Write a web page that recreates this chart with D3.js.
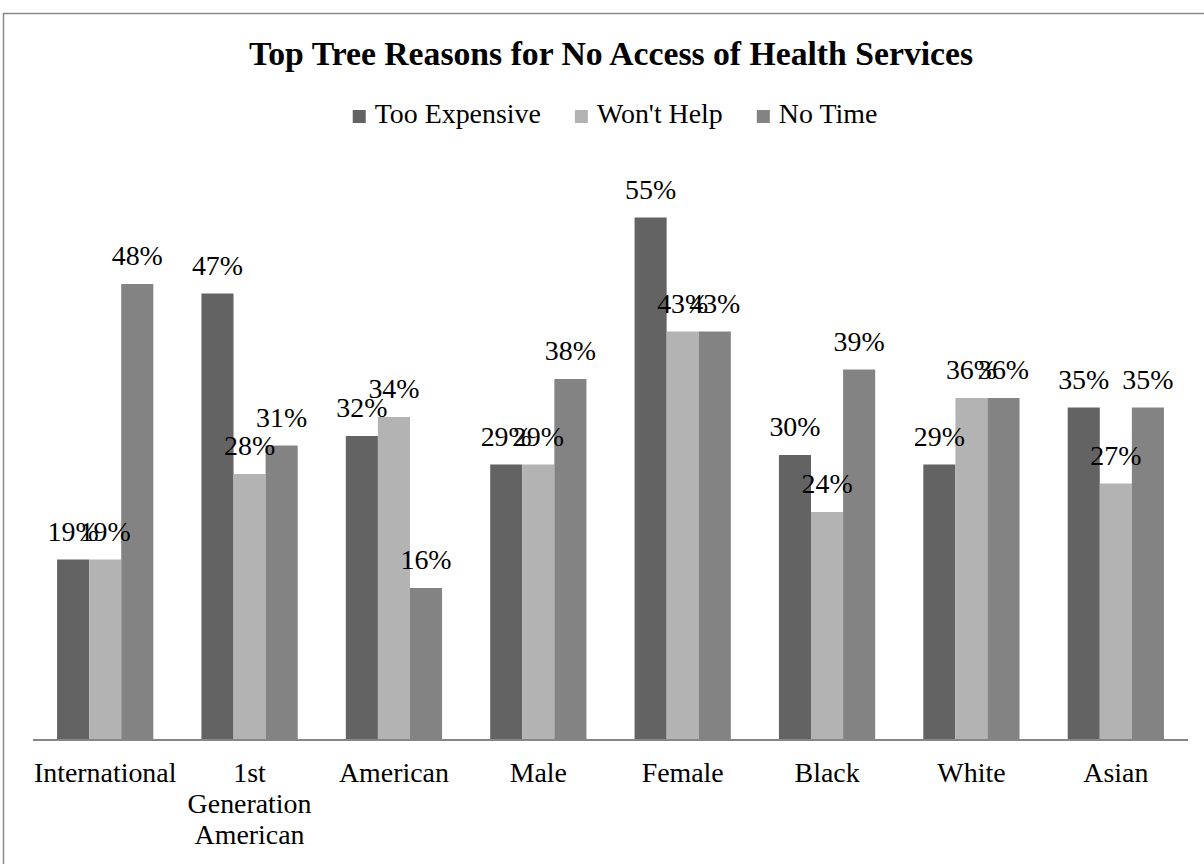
<!DOCTYPE html>
<html>
<head>
<meta charset="utf-8">
<script src="https://cdn.jsdelivr.net/npm/d3@7"></script>
<style>
body { margin: 0; background: #fff; }
text { font-family: "Liberation Serif", "Times New Roman", serif; fill: #000; }
</style>
</head>
<body>
<div id="chart"></div>
<script>
var categories = ["International", "1st Generation American", "American", "Male", "Female", "Black", "White", "Asian"];
var seriesNames = ["Too Expensive", "Won't Help", "No Time"];
var tooExpensive = [19, 47, 32, 29, 55, 30, 29, 35];
var wontHelp = [19, 28, 34, 29, 43, 24, 36, 27];
var noTime = [48, 31, 16, 38, 43, 39, 36, 35];
var colors = ["#636363", "#b3b3b3", "#838383"];

var W = 1204, H = 864;
var plot = {left: 33, right: 1188, top: 170, bottom: 740};
var fs = "27.9px";

var svg = d3.select("#chart")
.append("svg")
.attr("width", W)
.attr("height", H);

svg.append("rect")
.attr("x", 3.5).attr("y", 13.5)
.attr("width", W + 10).attr("height", H + 10)
.attr("fill", "#fff")
.attr("stroke", "#898989")
.attr("stroke-width", 1.5);

svg.append("text")
.attr("x", 611).attr("y", 65)
.attr("text-anchor", "middle")
.style("font-size", "33.7px")
.style("font-weight", "bold")
.text("Top Tree Reasons for No Access of Health Services");

// legend
var legend = svg.append("g");
var lx = 0;
seriesNames.forEach(function(name, i) {
    var item = legend.append("g").attr("transform", "translate(" + lx + ",0)");
    item.append("rect")
    .attr("x", 0).attr("y", 110)
    .attr("width", 13).attr("height", 13)
    .attr("fill", colors[i]);
    var t = item.append("text")
    .attr("x", 22).attr("y", 123)
    .style("font-size", fs)
    .text(name);
    lx += 22 + t.node().getComputedTextLength() + 34;
});
var legendW = lx - 34;
legend.attr("transform", "translate(" + (615 - legendW / 2) + ",0)");

var data = categories.map(function(c, i) {
    return {cat: c, values: [tooExpensive[i], wontHelp[i], noTime[i]]};
});

var x0 = d3.scaleBand()
.domain(categories)
.range([plot.left, plot.right])
.paddingInner(1 / 3)
.paddingOuter(1 / 6);

var x1 = d3.scaleBand()
.domain([0, 1, 2])
.range([0, x0.bandwidth()]);

var y = d3.scaleLinear()
.domain([0, 60])
.range([plot.bottom, plot.top]);

var groups = svg.selectAll(".group")
.data(data)
.enter()
.append("g")
.attr("class", "group")
.attr("transform", function(d) { return "translate(" + x0(d.cat) + ",0)"; });

groups.selectAll("rect")
.data(function(d) { return d.values; })
.enter()
.append("rect")
.attr("x", function(d, i) { return x1(i); })
.attr("y", function(d) { return y(d); })
.attr("width", x1.bandwidth())
.attr("height", function(d) { return y(0) - y(d); })
.attr("fill", function(d, i) { return colors[i]; });

groups.selectAll(".label")
.data(function(d) { return d.values; })
.enter()
.append("text")
.attr("class", "label")
.attr("x", function(d, i) { return x1(i) + x1.bandwidth() / 2; })
.attr("y", function(d) { return y(d) - 19; })
.attr("text-anchor", "middle")
.style("font-size", fs)
.text(function(d) { return d + "%"; });

// x axis
var xAxis = svg.append("g")
.attr("transform", "translate(0," + plot.bottom + ")")
.call(d3.axisBottom(x0).tickSize(0).tickSizeOuter(0).tickFormat(""));
xAxis.select(".domain")
.attr("d", "M" + plot.left + ",0H" + plot.right)
.attr("stroke", "#868686")
.attr("stroke-width", 2);

var wrapLines = {"1st Generation American": ["1st", "Generation", "American"]};
xAxis.selectAll(".tick").each(function(d) {
    var lines = wrapLines[d] || [d];
    var t = d3.select(this).append("text")
    .attr("x", 0)
    .attr("y", 42)
    .attr("text-anchor", "middle")
    .style("font-size", fs);
    lines.forEach(function(line, i) {
        t.append("tspan")
        .attr("x", 0)
        .attr("dy", i === 0 ? 0 : 31)
        .text(line);
    });
});
</script>
</body>
</html>
